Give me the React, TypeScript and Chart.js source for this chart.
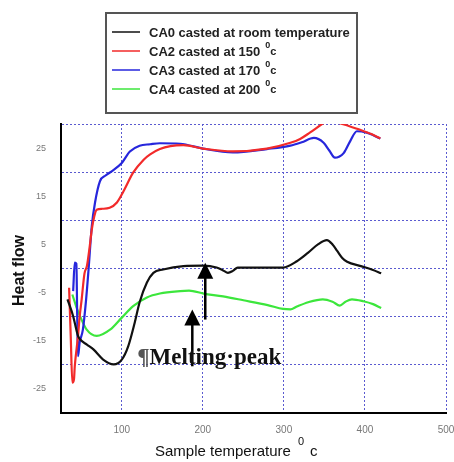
import React, { useEffect, useRef } from "react";
import { Chart, registerables } from "chart.js";

Chart.register(...registerables);

// ---- data ----
const ca0X = [33, 40, 46, 49, 57, 65, 77, 90, 100, 108, 116, 122, 131, 139, 151, 176, 200, 217, 225, 231, 237, 243, 270, 299, 316, 330, 342, 353, 360, 366, 372, 378, 395, 410, 420];
const ca0Y = [-6.4, -9.9, -14, -14.8, -15.8, -16.8, -18.9, -19.9, -18.9, -16.1, -11.2, -7, -2.9, -0.9, -0.2, 0.5, 0.6, 0.2, -0.4, -0.9, -0.5, 0.2, 0.2, 0.2, 1.5, 3.3, 5.0, 5.9, 5.0, 3.6, 2.2, 1.4, 0.5, -0.3, -1.0];

const ca2X = [35, 37, 39, 41, 42, 46, 48, 50.5, 54, 57, 60, 63, 66, 69, 76, 85, 94, 102, 114, 127, 135, 147, 160, 176, 200, 237, 279, 308, 320, 332, 349, 357, 365, 380, 394, 408, 419];
const ca2Y = [-4, -14, -23.7, -23, -20.3, -14, -10, -6.4, -1, 0.5, 4, 8.1, 10.8, 12.2, 12.4, 12.6, 13.7, 16, 19.9, 22.6, 23.7, 24.8, 25.4, 25.6, 24.9, 24.3, 24.9, 26.1, 26.9, 28.2, 30.2, 31, 30.4, 29.6, 28.8, 27.9, 27.0];

const ca3X = [40, 42, 44, 45, 46, 48, 52, 56, 59, 63, 67, 73, 80, 86, 100, 110, 122, 135, 147, 172, 200, 237, 279, 308, 322, 337, 349, 356, 363, 368, 374, 382, 390, 402, 419];
const ca3Y = [-4.7, 1.2, 1.0, -10, -18.2, -15.4, -12.7, -6.4, -0.2, 8.8, 13.7, 18.1, 19.3, 20.0, 21.9, 24.3, 25.5, 25.8, 26.0, 25.9, 24.9, 24.1, 24.8, 25.5, 26.2, 27.1, 26.1, 24.5, 23.0, 23.2, 24.0, 26.5, 28.5, 28.2, 27.0];

const ca4X = [39, 44, 48.5, 56.7, 69, 85.5, 100, 114, 131, 147, 172, 183, 201, 225, 250, 280, 299, 308, 316, 330, 348, 360, 369, 376, 384, 398, 410, 420];
const ca4Y = [-5.4, -8, -9.9, -12.7, -14.0, -12.7, -10.2, -7.8, -6.0, -5.2, -4.7, -4.6, -5.2, -5.8, -6.6, -7.6, -8.4, -8.5, -7.9, -7.0, -6.4, -6.9, -7.7, -6.9, -6.4, -6.8, -7.4, -8.2];

const seriesLabels = ["CA0 casted at room temperature", "CA2 casted at 150", "CA3 casted at 170", "CA4 casted at 200"];
const seriesHasUnit = [false, true, true, true];
const seriesColors = ["#111111", "#f22a2a", "#2626dc", "#3ce63c"];

const xTickValues = [100, 200, 300, 400, 500];
const yTickLabels = [-25, -15, -5, 5, 15, 25];
const xTitle = "Sample temperature";
const yTitle = "Heat flow";
const noteMark = "¶";
const noteText = "Melting·peak";
const noteX = [119];
const noteY = [-19.9];
const arrowX = [203, 187];
const arrowTipY = [1.2, -8.5];
const arrowTailY = [-10.6, -20.3];

const SANS = "'Liberation Sans', Arial, sans-serif";
const SERIF = "'Liberation Serif', 'Times New Roman', serif";

function zip(xs: number[], ys: number[]) {
  return xs.map((x, i) => ({ x, y: ys[i] }));
}

const overlayPlugin = {
  id: "overlay",
  afterDraw(chart: any) {
    const { ctx, chartArea: a, scales } = chart;
    const xs = scales.x;
    const ys = scales.y;
    ctx.save();

    // arrows
    ctx.strokeStyle = "#000";
    ctx.fillStyle = "#000";
    ctx.lineWidth = 2.5;
    arrowX.forEach((v, i) => {
      const px = xs.getPixelForValue(v);
      const tip = ys.getPixelForValue(arrowTipY[i]);
      const tail = ys.getPixelForValue(arrowTailY[i]);
      ctx.beginPath();
      ctx.moveTo(px, tail);
      ctx.lineTo(px, tip + 12);
      ctx.stroke();
      ctx.beginPath();
      ctx.moveTo(px, tip);
      ctx.lineTo(px - 8, tip + 16);
      ctx.lineTo(px + 8, tip + 16);
      ctx.closePath();
      ctx.fill();
    });

    // note text
    const nx = xs.getPixelForValue(noteX[0]);
    const ny = ys.getPixelForValue(noteY[0]);
    ctx.font = `bold 23px ${SERIF}`;
    ctx.textAlign = "left";
    ctx.textBaseline = "alphabetic";
    ctx.fillStyle = "#555";
    ctx.fillText(noteMark, nx, ny);
    const mw = ctx.measureText(noteMark).width;
    ctx.fillStyle = "#111";
    ctx.fillText(noteText, nx + mw, ny);

    // legend box
    const bx = a.left + 45;
    const by = 13;
    const bw = 251;
    const bh = a.top - 11 - by;
    ctx.fillStyle = "#fff";
    ctx.fillRect(bx, by, bw, bh);
    ctx.strokeStyle = "#555";
    ctx.lineWidth = 2;
    ctx.strokeRect(bx, by, bw, bh);
    seriesLabels.forEach((lab, i) => {
      const ry = by + 19 + i * 19;
      ctx.strokeStyle = seriesColors[i];
      ctx.lineWidth = 1.5;
      ctx.beginPath();
      ctx.moveTo(bx + 6, ry);
      ctx.lineTo(bx + 34, ry);
      ctx.stroke();
      ctx.fillStyle = "#222";
      ctx.font = `bold 13px ${SANS}`;
      ctx.textBaseline = "alphabetic";
      const base = ry + 4.5;
      ctx.fillText(lab, bx + 43, base);
      if (seriesHasUnit[i]) {
        const w = ctx.measureText(lab).width;
        ctx.font = `bold 9px ${SANS}`;
        ctx.fillText("0", bx + 43 + w + 5, base - 8);
        ctx.font = `bold 11px ${SANS}`;
        ctx.fillText("c", bx + 43 + w + 10, base - 1);
      }
    });

    // y title
    ctx.save();
    ctx.translate(20, (a.top + a.bottom) / 2 + 2);
    ctx.rotate(-Math.PI / 2);
    ctx.font = `bold 16px ${SANS}`;
    ctx.fillStyle = "#111";
    ctx.textAlign = "center";
    ctx.textBaseline = "middle";
    ctx.fillText(yTitle, 0, 0);
    ctx.restore();

    // x title
    ctx.font = `15px ${SANS}`;
    ctx.fillStyle = "#111";
    ctx.textAlign = "left";
    ctx.textBaseline = "alphabetic";
    const tx = a.left + 94;
    const tb = a.bottom + 43;
    ctx.fillText(xTitle, tx, tb);
    const tw = ctx.measureText(xTitle).width;
    ctx.font = `11px ${SANS}`;
    ctx.fillText("0", tx + tw + 7, tb - 11);
    ctx.font = `15px ${SANS}`;
    ctx.fillText("c", tx + tw + 19, tb);

    ctx.restore();
  },
};

export default function App() {
  const ref = useRef<HTMLCanvasElement | null>(null);

  useEffect(() => {
    if (!ref.current) return;
    const gridColor = "#5a5ad0";
    const chart = new Chart(ref.current, {
      type: "line",
      data: {
        datasets: [
          { label: seriesLabels[0], data: zip(ca0X, ca0Y), borderColor: seriesColors[0] },
          { label: seriesLabels[1], data: zip(ca2X, ca2Y), borderColor: seriesColors[1] },
          { label: seriesLabels[2], data: zip(ca3X, ca3Y), borderColor: seriesColors[2] },
          { label: seriesLabels[3], data: zip(ca4X, ca4Y), borderColor: seriesColors[3] },
        ].map((d) => ({
          ...d,
          borderWidth: 2.2,
          pointRadius: 0,
          fill: false,
          cubicInterpolationMode: "monotone" as const,
        })),
      },
      options: {
        responsive: false,
        animation: false,
        devicePixelRatio: 1,
        layout: { padding: { top: 124, right: 8, bottom: 0, left: 0 } },
        plugins: { legend: { display: false }, tooltip: { enabled: false } },
        scales: {
          x: {
            type: "linear",
            min: 25,
            max: 500,
            afterBuildTicks: (s: any) => {
              s.ticks = xTickValues.map((v) => ({ value: v }));
            },
            afterFit: (s: any) => {
              s.height = 49;
              s.paddingLeft = 0;
              s.paddingRight = 0;
            },
            ticks: {
              autoSkip: false,
              maxRotation: 0,
              padding: 11,
              color: "#777",
              font: { size: 10, family: SANS },
            },
            grid: { color: gridColor, lineWidth: 1, drawTicks: false },
            border: { display: true, color: "#000", width: 2, dash: [2, 2] },
          },
          y: {
            min: -30,
            max: 30,
            afterFit: (s: any) => {
              s.width = 61;
              s.paddingTop = 0;
              s.paddingBottom = 0;
            },
            ticks: {
              stepSize: 5,
              padding: 15,
              color: "#777",
              font: { size: 9, family: SANS },
              callback: (v: any) => (yTickLabels.includes(Number(v)) ? String(v) : ""),
            },
            grid: {
              color: (c: any) => (c.tick && Math.abs(c.tick.value % 10) < 1e-9 ? gridColor : "rgba(0,0,0,0)"),
              lineWidth: 1,
              drawTicks: false,
            },
            border: { display: true, color: "#000", width: 2, dash: [2, 2] },
          },
        },
      },
      plugins: [overlayPlugin],
    } as any);
    return () => chart.destroy();
  }, []);

  return (
    <div style={{ position: "fixed", left: 0, top: 0, width: 454, height: 462, background: "#fff" }}>
      <canvas ref={ref} width={454} height={462} />
    </div>
  );
}
